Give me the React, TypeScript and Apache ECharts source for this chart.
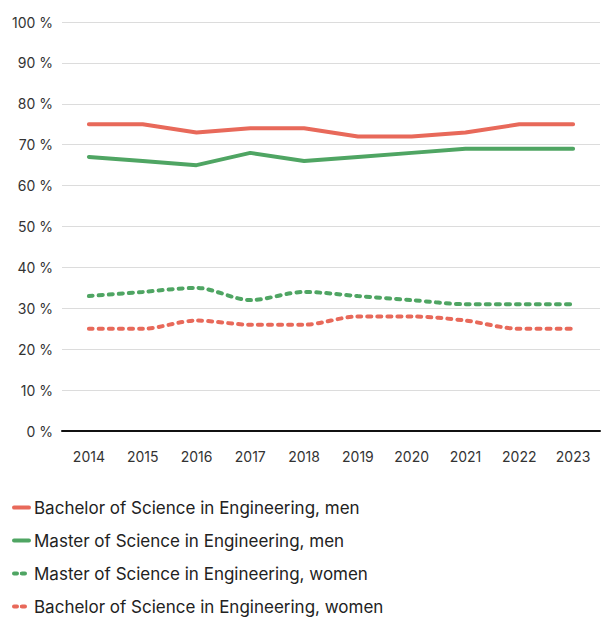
import React, { useEffect, useRef } from "react";
import * as echarts from "echarts";

const years = ["2014", "2015", "2016", "2017", "2018", "2019", "2020", "2021", "2022", "2023"];
const bachelorMen = [75, 75, 73, 74, 74, 72, 72, 73, 75, 75];
const masterMen = [67, 66, 65, 68, 66, 67, 68, 69, 69, 69];
const masterWomen = [33, 34, 35, 32, 34, 33, 32, 31, 31, 31];
const bachelorWomen = [25, 25, 27, 26, 26, 28, 28, 27, 25, 25];

const RED = "#e8695a";
const GREEN = "#4fa563";
const FONT = "Inter, 'Noto Sans', sans-serif";

export default function App() {
  const ref = useRef<HTMLDivElement>(null);
  useEffect(() => {
    document.body.style.margin = "0";
    const chart = echarts.init(ref.current!, null, { renderer: "svg" });
    const mk = (name: string, data: number[], color: string, dashed: boolean) => ({
      name,
      type: "line",
      data,
      symbol: "none",
      smooth: dashed ? 0.3 : false,
      lineStyle: { color, width: 4, type: dashed ? [4, 6] : "solid", cap: "round" },
      itemStyle: { color },
    });
    const legendItem = (name: string, color: string, dashed: boolean) => ({
      name,
      lineStyle: { color, width: 4, type: dashed ? [3, 5] : "solid", cap: "round" },
    });
    chart.setOption({
      animation: false,
      textStyle: { fontFamily: FONT },
      grid: { left: 62, right: 1, top: 22, bottom: 186 },
      xAxis: {
        type: "category",
        data: years,
        boundaryGap: true,
        axisLine: { lineStyle: { color: "#111", width: 2 } },
        axisTick: { show: false },
        axisLabel: { color: "#333", fontSize: 14, margin: 18, fontFamily: FONT },
      },
      yAxis: {
        type: "value",
        min: 0,
        max: 100,
        interval: 10,
        axisLabel: { formatter: "{value} %", color: "#333", fontSize: 14, margin: 9, fontFamily: FONT },
        splitLine: { lineStyle: { color: "#dcdcdc", width: 1 } },
      },
      legend: {
        orient: "vertical",
        left: 12,
        top: 499,
        padding: 0,
        itemGap: 16,
        itemWidth: 15,
        itemHeight: 4,
        textStyle: { fontSize: 17, lineHeight: 17, color: "#222", fontFamily: FONT },
        data: [
          legendItem("Bachelor of Science in Engineering, men", RED, false),
          legendItem("Master of Science in Engineering, men", GREEN, false),
          legendItem("Master of Science in Engineering, women", GREEN, true),
          legendItem("Bachelor of Science in Engineering, women", RED, true),
        ],
      },
      series: [
        mk("Bachelor of Science in Engineering, men", bachelorMen, RED, false),
        mk("Master of Science in Engineering, men", masterMen, GREEN, false),
        mk("Master of Science in Engineering, women", masterWomen, GREEN, true),
        mk("Bachelor of Science in Engineering, women", bachelorWomen, RED, true),
      ],
    });
    return () => chart.dispose();
  }, []);
  return <div ref={ref} style={{ width: 601, height: 617 }} />;
}
